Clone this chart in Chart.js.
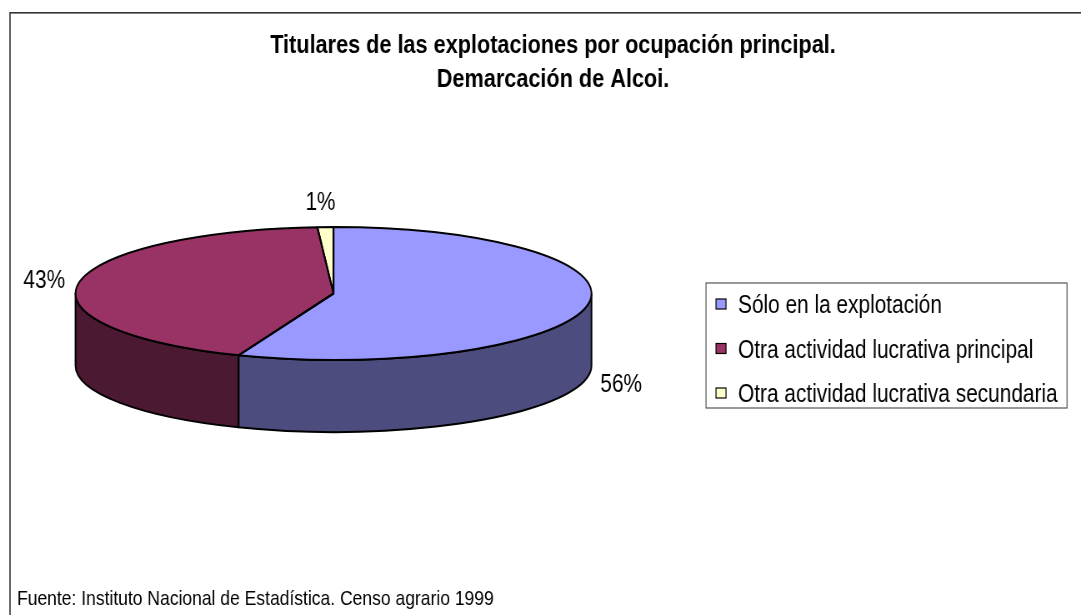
<!DOCTYPE html>
<html><head><meta charset="utf-8">
<script src="https://cdn.jsdelivr.net/npm/chart.js@4.4.1/dist/chart.umd.min.js"></script>
<style>html,body{margin:0;padding:0;background:#fff;overflow:hidden}canvas{display:block}</style>
</head>
<body>
<canvas id="c" width="1297" height="615" style="width:1081px;height:615px"></canvas>
<script>
// ---- data ----
const categories = ['Sólo en la explotación', 'Otra actividad lucrativa principal', 'Otra actividad lucrativa secundaria'];
const values = [56, 43, 1];
const topColors = ['#9999FF', '#993366', '#FFFFCC'];
const sideColors = ['#4C4C7F', '#4C1933', '#808066'];
const titleLines = ['Titulares de las explotaciones por ocupación principal.', 'Demarcación de Alcoi.'];
const sourceNote = 'Fuente: Instituto Nacional de Estadística. Censo agrario 1999';

// ---- layout (canvas is drawn horizontally stretched, then shown at 1081px) ----
const S = 1297 / 1081;
const FONT = "'Liberation Sans', Arial, sans-serif";
const PIE = { cx: 333.5 * S, cy: 293.5, rx: 258 * S, ry: 66.5, depth: 72 };
const LEGEND = { x: 706 * S, y: 283, w: 361 * S, h: 125, markX: 716 * S, mark: 10, textX: 738 * S, row0: 304, rowStep: 44.5 };
const LABEL_GAP_X = 14;
const LABEL_GAP_Y = 17;

function arcsOf(chart) {
  return chart.getDatasetMeta(0).data.map(a => a.getProps(['x', 'y', 'startAngle', 'endAngle', 'outerRadius'], true));
}

const pie3d = {
  id: 'pie3d',
  beforeDraw(chart) {
    const ctx = chart.ctx;
    ctx.save();
    ctx.fillStyle = '#fff';
    ctx.fillRect(0, 0, chart.width, chart.height);
    ctx.strokeStyle = '#333';
    ctx.lineWidth = 1.6;
    ctx.strokeRect(12, 12.8, chart.width + 50, chart.height + 50);
    ctx.restore();
  },
  beforeDatasetsDraw(chart) {
    const ctx = chart.ctx;
    const arcs = arcsOf(chart);
    ctx.save();
    ctx.lineWidth = 2;
    ctx.strokeStyle = '#000';
    ctx.lineJoin = 'round';
    arcs.forEach((a, i) => {
      const lo = Math.max(a.startAngle, 0), hi = Math.min(a.endAngle, Math.PI);
      if (hi <= lo) return;
      ctx.beginPath();
      ctx.ellipse(PIE.cx, PIE.cy, PIE.rx, PIE.ry, 0, lo, hi, false);
      ctx.ellipse(PIE.cx, PIE.cy + PIE.depth, PIE.rx, PIE.ry, 0, hi, lo, true);
      ctx.closePath();
      ctx.fillStyle = sideColors[i];
      ctx.fill();
      ctx.stroke();
    });
    ctx.restore();
    const a0 = arcs[0];
    ctx.save();
    ctx.translate(PIE.cx, PIE.cy);
    ctx.scale(PIE.rx / a0.outerRadius, PIE.ry / a0.outerRadius);
    ctx.translate(-a0.x, -a0.y);
  },
  afterDatasetsDraw(chart) {
    const ctx = chart.ctx;
    ctx.restore();
    const arcs = arcsOf(chart);
    ctx.save();
    ctx.lineWidth = 2;
    ctx.strokeStyle = '#000';
    ctx.lineJoin = 'round';
    arcs.forEach(a => {
      ctx.beginPath();
      ctx.moveTo(PIE.cx, PIE.cy);
      ctx.ellipse(PIE.cx, PIE.cy, PIE.rx, PIE.ry, 0, a.startAngle, a.endAngle, false);
      ctx.closePath();
      ctx.stroke();
    });
    // percentage labels
    const total = values.reduce((s, v) => s + v, 0);
    ctx.font = '25px ' + FONT;
    ctx.fillStyle = '#000';
    ctx.textAlign = 'center';
    ctx.textBaseline = 'alphabetic';
    arcs.forEach((a, i) => {
      const mid = (a.startAngle + a.endAngle) / 2;
      const c = Math.cos(mid), s = Math.sin(mid);
      let ax = PIE.cx + PIE.rx * c, ay = PIE.cy + PIE.ry * s;
      if (s > 0) ay += PIE.depth;
      const txt = Math.round(values[i] / total * 100) + '%';
      const halfW = ctx.measureText(txt).width / 2;
      const lx = ax + c * (LABEL_GAP_X * S + halfW) - (s < -0.9 ? 4 * S : 0);
      const ly = ay + s * (LABEL_GAP_Y + 9);
      ctx.fillText(txt, lx, ly + 9);
    });
    ctx.restore();
  },
  afterDraw(chart) {
    const ctx = chart.ctx;
    ctx.save();
    // legend
    ctx.strokeStyle = '#555';
    ctx.lineWidth = 1.2;
    ctx.strokeRect(LEGEND.x, LEGEND.y, LEGEND.w, LEGEND.h);
    ctx.font = '25px ' + FONT;
    ctx.textBaseline = 'alphabetic';
    ctx.textAlign = 'left';
    categories.forEach((cat, i) => {
      const cy = LEGEND.row0 + i * LEGEND.rowStep;
      ctx.fillStyle = topColors[i];
      ctx.fillRect(LEGEND.markX, cy - LEGEND.mark / 2, LEGEND.mark * S, LEGEND.mark);
      ctx.strokeStyle = '#000';
      ctx.lineWidth = 1.2;
      ctx.strokeRect(LEGEND.markX, cy - LEGEND.mark / 2, LEGEND.mark * S, LEGEND.mark);
      ctx.fillStyle = '#000';
      ctx.fillText(cat, LEGEND.textX, cy + 9);
    });
    // source note
    ctx.font = '21px ' + FONT;
    ctx.fillStyle = '#000';
    ctx.fillText(sourceNote, 17 * S, 605);
    ctx.restore();
  }
};

new Chart(document.getElementById('c'), {
  type: 'pie',
  data: {
    labels: categories,
    datasets: [{ data: values, backgroundColor: topColors, borderWidth: 0, clip: false }]
  },
  options: {
    responsive: false,
    animation: false,
    devicePixelRatio: 1,
    events: [],
    layout: { padding: { left: 30, right: 0, top: 0, bottom: 20 } },
    plugins: {
      legend: { display: false },
      tooltip: { enabled: false },
      title: {
        display: true,
        text: titleLines,
        color: '#000',
        font: { family: FONT, size: 26, weight: 'bold', lineHeight: 34 / 26 },
        padding: { top: 29, bottom: 10 }
      }
    }
  },
  plugins: [pie3d]
});
</script>
</body></html>
